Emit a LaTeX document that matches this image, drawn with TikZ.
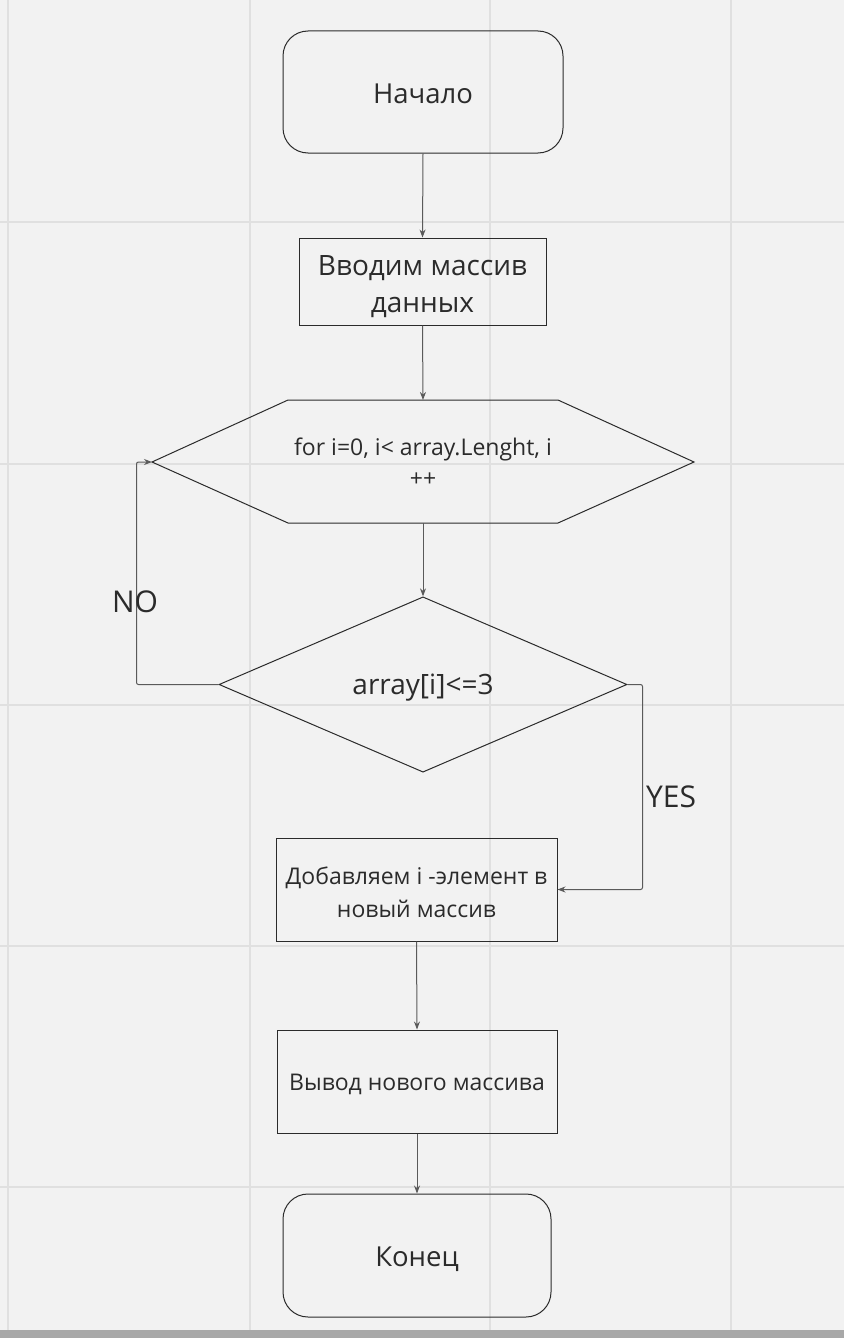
\documentclass[tikz,border=0pt]{standalone}
\usepackage{fontspec}
\setmainfont{Open Sans}
\usetikzlibrary{shapes.geometric,arrows.meta}

\definecolor{paper}{HTML}{F2F2F2}
\definecolor{gridcol}{HTML}{E0E0E0}
\definecolor{barcol}{HTML}{A8A8A8}
\definecolor{ink}{HTML}{2B2B2B}
\definecolor{wire}{HTML}{5A5A5A}

% invisible strut that pushes the first line of a label down
\newcommand\flstrut[1]{\rule{0pt}{#1}}

\tikzset{
  box/.style={draw=ink,line width=1pt,align=center,text=ink,inner sep=0pt},
  term/.style={box,rounded corners=25pt},
  flow/.style={draw=wire,line width=1pt,->,rounded corners=2pt},
  lbl/.style={text=ink,font=\fontsize{30}{36}\selectfont}
}

\begin{document}
\begin{tikzpicture}[x=1pt,y=-1pt,>={Stealth[length=8pt,width=6pt]}]
\useasboundingbox (0,0) rectangle (844,1338);
\fill[paper] (0,0) rectangle (844,1338);
% grid of the board
\foreach \x in {8,250,490,731} \draw[gridcol,line width=2pt] (\x,0) -- (\x,1330);
\foreach \y in {222,464,705,946,1187} \draw[gridcol,line width=2pt] (0,\y) -- (844,\y);
\fill[barcol] (0,1330) rectangle (844,1338);

\node[term,minimum width=280,minimum height=122,font=\fontsize{27.5}{32}\selectfont] (start) at (423,92) {\flstrut{23.5pt}Начало};
\node[box,minimum width=247,minimum height=87,font=\fontsize{28}{37}\selectfont] (input) at (422.5,281.5) {\flstrut{29.5pt}Вводим массив\\данных};

% loop block
\node[text=ink,align=center,font=\fontsize{23}{31}\selectfont] (loop) at (423,462) {for i=0, i< array.Lenght, i\\++};
\draw[ink,line width=1pt] (152,462) coordinate (loopW) -- (288,400) -- (558,400) -- (694,462)
  -- (558,523) -- (288,523) -- cycle;
\coordinate (loopN) at (423,400);
\coordinate (loopS) at (423,523);

\node[box,diamond,minimum width=408,minimum height=173,font=\fontsize{28}{32}\selectfont] (test) at (423,684.5) {\flstrut{27.5pt}array[i]<=3};
\node[box,minimum width=281,minimum height=103,font=\fontsize{23}{33}\selectfont] (add) at (416.5,889.5) {\flstrut{22.5pt}Добавляем i -элемент в\\новый массив};
\node[box,minimum width=280,minimum height=103,font=\fontsize{23}{28}\selectfont] (out) at (417,1081.5) {\flstrut{22.5pt}Вывод нового массива};
\node[term,minimum width=268,minimum height=123,font=\fontsize{27.5}{32}\selectfont] (stop) at (417,1255.5) {\flstrut{27.5pt}Конец};

\draw[flow] (start.south) -- (input.north);
\draw[flow] (input.south) -- (loopN);
\draw[flow] (loopS) -- (test.north);
\draw[flow] (test.west) -- ++(-82,0) |- (loopW);
\draw[flow] (test.east) -- ++(15,0) |- (add.east);
\draw[flow] (add.south) -- (out.north);
\draw[flow] (out.south) -- (stop.north);

\node[lbl] (no) at (135,602) {NO};
\node[lbl] (yes) at (671,797) {YES};
\end{tikzpicture}
\end{document}
